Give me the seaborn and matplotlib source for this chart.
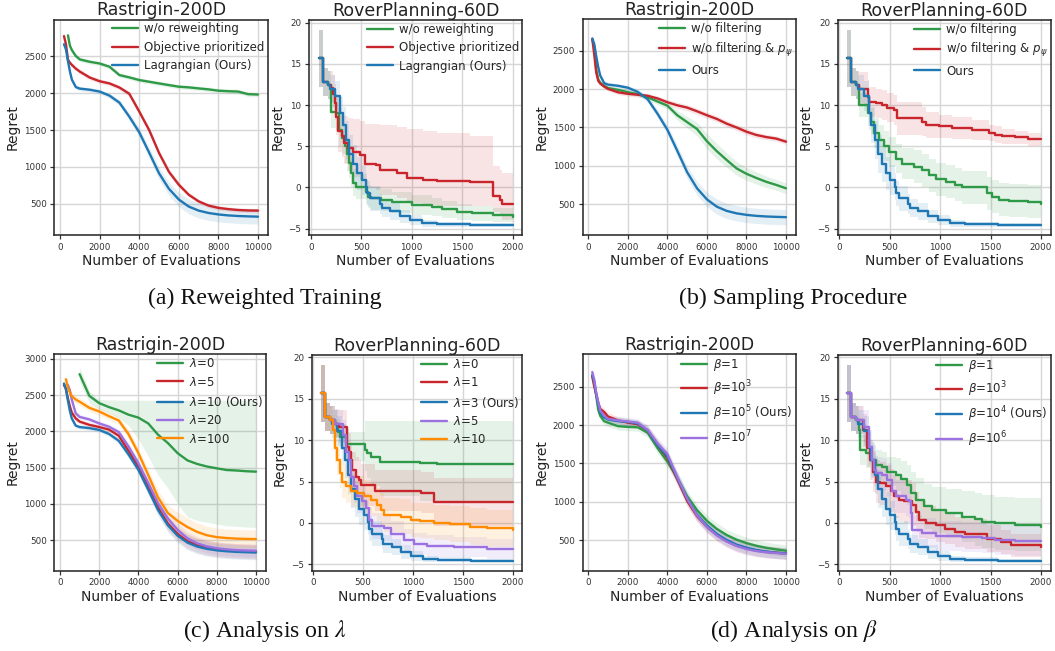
import numpy as np
import matplotlib
matplotlib.use("Agg")
import matplotlib.pyplot as plt
import seaborn as sns

nan = np.nan

# ---------------- data: Rastrigin-200D (shared evaluation grid) ----------------
RAS_X = [200, 300, 400, 500, 600, 800, 1000, 1500, 2000, 2500, 3000, 3500, 4000,
         4500, 5000, 5500, 6000, 6500, 7000, 7500, 8000, 8500, 9000, 9500, 10000]

ras_ours = [2660, 2590, 2430, 2290, 2180, 2080, 2060, 2045, 2020, 1965, 1870, 1680, 1470,
            1195, 915, 705, 560, 465, 410, 378, 358, 345, 337, 332, 328]
ras_ours_err = [60, 50, 40, 35, 30, 30, 30, 30, 30, 35, 40, 50, 60,
                70, 80, 90, 95, 100, 100, 100, 100, 100, 100, 100, 100]

a_worw = [nan, nan, 2780, 2640, 2580, 2500, 2455, 2423, 2400, 2356, 2243, 2212, 2176,
          2153, 2130, 2108, 2086, 2077, 2063, 2050, 2032, 2025, 2020, 1985, 1980]
a_worw_err = [nan, nan, 50, 40, 35, 30, 30, 30, 30, 30, 30, 30, 30,
              30, 30, 30, 30, 30, 30, 30, 30, 30, 30, 30, 30]
a_obj = [2770, 2660, 2450, 2410, 2380, 2330, 2290, 2210, 2160, 2130, 2075, 1990, 1750,
         1500, 1190, 935, 760, 625, 535, 478, 447, 430, 418, 412, 410]
a_obj_err = [40, 40, 35, 30, 30, 30, 30, 30, 30, 30, 30, 35, 40,
             40, 40, 40, 35, 30, 30, 30, 30, 30, 30, 30, 30]

b_wof = [2650, 2560, 2250, 2130, 2085, 2045, 2015, 1992, 1962, 1935, 1895, 1840, 1785,
         1660, 1570, 1480, 1320, 1190, 1075, 965, 895, 840, 790, 750, 705]
b_wof_err = [50, 40, 30, 30, 30, 30, 30, 30, 30, 30, 35, 40, 45,
             60, 75, 90, 100, 100, 95, 90, 85, 80, 75, 70, 70]
b_wofp = [2660, 2450, 2220, 2110, 2075, 2035, 2005, 1960, 1940, 1928, 1915, 1880, 1830,
          1790, 1760, 1712, 1660, 1612, 1550, 1500, 1445, 1402, 1375, 1355, 1315]
b_wofp_err = [50, 45, 40, 35, 30, 30, 30, 30, 30, 30, 30, 30, 35,
              40, 40, 40, 40, 40, 40, 40, 40, 40, 35, 35, 35]

c_l0 = [nan, nan, nan, nan, nan, nan, 2790, 2490, 2390, 2335, 2290, 2230, 2190,
        2110, 1955, 1840, 1700, 1600, 1550, 1515, 1490, 1467, 1460, 1450, 1444]
c_l0_up = [nan, nan, nan, nan, nan, nan, 100, 60, 50, 100, 140, 200, 240,
           320, 470, 590, 720, 830, 880, 915, 940, 960, 970, 980, 985]
c_l0_dn = [nan, nan, nan, nan, nan, nan, 100, 100, 80, 80, 100, 150, 300,
           450, 560, 620, 700, 780, 780, 770, 770, 770, 770, 770, 770]
c_l5 = [2640, 2590, 2460, 2350, 2260, 2180, 2135, 2090, 2060, 2025, 1940, 1730, 1510,
        1240, 950, 730, 585, 485, 428, 393, 372, 358, 350, 345, 340]
c_l5_err = [60, 50, 40, 40, 40, 35, 30, 30, 30, 35, 40, 50, 60,
            70, 80, 90, 95, 100, 100, 100, 100, 100, 100, 100, 100]
c_l20 = [nan, nan, 2640, 2570, 2440, 2250, 2200, 2165, 2110, 2065, 1990, 1790, 1560,
         1290, 1010, 800, 640, 525, 455, 412, 387, 372, 362, 356, 353]
c_l20_err = [nan, nan, 50, 45, 40, 35, 35, 35, 35, 35, 40, 50, 60,
             70, 80, 85, 90, 90, 90, 90, 90, 90, 90, 90, 90]
c_l100 = [nan, 2720, 2610, 2545, 2485, 2440, 2410, 2325, 2275, 2210, 2150, 1960, 1700,
          1400, 1090, 875, 765, 680, 612, 566, 540, 528, 520, 516, 514]
c_l100_err = [nan, 70, 60, 55, 50, 50, 50, 50, 50, 50, 55, 60, 70,
              80, 100, 110, 120, 125, 125, 125, 125, 125, 125, 125, 125]

d_b1 = [2650, 2540, 2380, 2200, 2120, 2050, 2030, 1985, 1975, 1970, 1900, 1700, 1520,
        1310, 1070, 890, 750, 645, 565, 505, 460, 425, 398, 378, 360]
d_b1_err = [60, 55, 50, 50, 50, 50, 50, 50, 50, 50, 60, 70, 75,
            75, 75, 75, 75, 75, 75, 75, 75, 75, 75, 75, 75]
d_b3 = [2630, 2500, 2400, 2290, 2210, 2170, 2110, 2060, 2030, 2010, 1930, 1740, 1570,
        1290, 1010, 810, 670, 565, 485, 425, 390, 362, 345, 335, 325]
d_b3_err = [60, 55, 50, 50, 50, 50, 50, 50, 50, 50, 60, 70, 75,
            75, 75, 75, 75, 75, 75, 75, 75, 75, 75, 75, 75]
d_b5 = [2650, 2560, 2400, 2260, 2160, 2100, 2070, 2050, 2040, 2020, 1930, 1740, 1590,
        1310, 1040, 830, 690, 580, 500, 440, 400, 370, 350, 335, 326]
d_b5_err = [60, 55, 50, 50, 50, 50, 50, 50, 50, 50, 60, 70, 75,
            75, 75, 75, 75, 75, 75, 75, 75, 75, 75, 75, 75]
d_b7 = [2690, 2590, 2420, 2300, 2190, 2120, 2080, 2060, 2045, 2030, 1935, 1760, 1620,
        1320, 1040, 820, 670, 560, 480, 422, 382, 356, 340, 330, 320]
d_b7_err = [60, 55, 50, 50, 50, 50, 50, 50, 50, 50, 60, 70, 75,
            75, 75, 75, 75, 75, 75, 75, 75, 75, 75, 75, 75]

# ---------------- data: RoverPlanning-60D (step curves) ----------------
rov_ours_x = [80, 120, 170, 190, 240, 290, 317, 350, 383, 422, 462, 505, 548, 561, 587,
              686, 703, 785, 884, 983, 1099, 1248, 1578, 2000]
rov_ours_y = [15.65, 12.8, 12.4, 11.9, 11.1, 9.0, 7.6, 5.8, 4.1, 2.9, 1.7, 0.9, 0.1, -0.7, -1.3,
              -2.0, -2.5, -2.9, -3.5, -4.0, -4.35, -4.47, -4.55, -4.6]
rov_ours_err = [3.45, 1.7, 1.7, 1.7, 1.8, 2.0, 2.2, 2.3, 2.3, 2.2, 2.0, 1.8, 1.6, 1.5, 1.5,
                1.2, 1.1, 1.0, 0.8, 0.6, 0.4, 0.3, 0.2, 0.2]

a2_worw_x = [80, 120, 170, 200, 250, 280, 310, 340, 360, 380, 400, 420, 450, 550, 570, 600,
             700, 800, 1000, 1200, 1300, 1450, 1600, 1800, 2000]
a2_worw_y = [15.65, 12.8, 12.4, 9.2, 9.0, 7.0, 6.0, 5.0, 4.0, 3.0, 1.8, 0.6, 0.1, -0.5, -1.1, -1.3,
             -1.5, -1.8, -2.1, -2.4, -2.65, -2.95, -3.15, -3.35, -3.55]
a2_worw_err = [3.45, 1.7, 1.7, 2.0, 2.0, 2.0, 2.0, 2.0, 2.0, 1.8, 1.8, 1.6, 1.5, 1.5, 1.4, 1.4,
               1.3, 1.3, 1.2, 1.1, 1.0, 1.0, 0.9, 0.9, 0.9]
a2_obj_x = [80, 120, 170, 200, 225, 240, 255, 275, 305, 330, 370, 420, 490, 540, 650, 690,
            850, 950, 1110, 1250, 1580, 1805, 1875, 1890, 2000]
a2_obj_y = [15.65, 12.8, 12.4, 12.1, 11.4, 10.2, 8.6, 6.8, 6.2, 5.4, 4.8, 4.3, 3.9, 2.9, 2.7, 2.1,
            1.7, 1.1, 0.9, 0.8, 0.7, -1.0, -1.5, -2.0, -2.0]
a2_obj_up = [3.45, 1.7, 1.7, 2.0, 2.2, 2.4, 2.6, 2.8, 3.0, 3.3, 3.6, 4.0, 4.2, 4.8, 5.0, 5.5,
             5.6, 6.0, 5.9, 5.8, 5.5, 3.6, 3.6, 3.8, 3.8]
a2_obj_dn = [3.45, 1.7, 1.7, 1.6, 1.8, 2.0, 2.2, 2.5, 2.5, 2.6, 2.8, 3.0, 3.0, 3.0, 3.0, 3.0,
             3.0, 3.0, 3.0, 3.0, 3.0, 2.0, 2.0, 2.0, 2.0]

b2_wof_x = [80, 120, 170, 200, 280, 312, 345, 395, 444, 493, 559, 625, 740, 822, 888, 954,
            1053, 1151, 1217, 1464, 1513, 1579, 1678, 1875, 2000]
b2_wof_y = [15.65, 12.8, 12.4, 10.0, 9.0, 8.0, 6.6, 5.8, 5.0, 4.3, 3.5, 2.9, 2.5, 2.1, 1.5, 1.0,
            0.7, 0.3, 0.0, -0.7, -1.1, -1.5, -1.6, -1.75, -2.0]
b2_wof_err = [3.45, 1.7, 1.7, 1.5, 1.5, 1.6, 1.8, 1.8, 1.8, 1.8, 1.8, 1.9, 2.0, 2.0, 2.0, 2.0,
              2.0, 2.0, 2.0, 2.0, 2.0, 2.0, 2.0, 2.0, 2.0]
b2_wofp_x = [80, 120, 170, 200, 280, 296, 362, 428, 477, 543, 576, 822, 855, 987, 1118, 1316,
             1480, 1546, 1612, 1743, 1875, 2000]
b2_wofp_y = [15.65, 12.8, 12.4, 12.0, 11.0, 10.4, 10.2, 10.0, 9.7, 9.4, 8.4, 8.0, 7.6, 7.4, 7.2, 7.0,
             6.6, 6.4, 6.2, 6.1, 5.85, 5.85]
b2_wofp_err = [3.45, 1.7, 1.7, 2.0, 2.0, 1.8, 1.8, 1.8, 1.8, 1.8, 2.0, 1.8, 1.6, 1.4, 1.3, 1.2,
               1.0, 1.0, 0.9, 0.8, 0.8, 0.8]

c2_l0_x = [80, 120, 170, 220, 250, 270, 326, 519, 542, 576, 669, 1075, 1241, 2000]
c2_l0_y = [15.65, 12.8, 12.4, 12.0, 11.0, 10.4, 9.5, 8.8, 8.4, 8.0, 7.3, 7.2, 7.1, 7.1]
c2_l0_up = [3.45, 1.7, 1.7, 1.6, 1.6, 1.5, 1.5, 3.5, 3.9, 4.35, 5.05, 5.15, 5.25, 5.25]
c2_l0_dn = [3.45, 1.7, 1.7, 1.6, 1.6, 1.6, 2.0, 2.5, 3.0, 3.5, 4.0, 4.5, 4.5, 4.5]
c2_l1_x = [80, 120, 170, 220, 260, 343, 359, 376, 393, 426, 459, 476, 619, 1082, 1215, 2000]
c2_l1_y = [15.65, 12.8, 12.4, 12.0, 11.6, 9.2, 8.6, 7.6, 6.4, 5.6, 5.2, 4.6, 3.9, 3.65, 2.5, 2.5]
c2_l1_err = [3.45, 1.7, 1.7, 1.8, 2.0, 2.2, 2.2, 2.2, 2.2, 2.4, 2.4, 2.5, 2.5, 2.5, 2.9, 2.9]
c2_l5_x = [80, 120, 170, 220, 293, 326, 359, 376, 409, 443, 492, 526, 559, 592, 709, 775,
           908, 1008, 1141, 1408, 1740, 2000]
c2_l5_y = [15.65, 12.8, 12.4, 12.0, 10.6, 8.6, 7.6, 5.6, 4.4, 3.2, 2.6, 1.8, 0.35, -0.4, -0.65, -1.3,
           -2.1, -2.55, -2.8, -2.95, -3.1, -3.2]
c2_l5_err = [3.45, 1.7, 1.7, 1.6, 1.8, 2.0, 2.0, 2.0, 2.0, 2.0, 1.8, 1.8, 1.6, 1.6, 1.5, 1.5,
             1.4, 1.3, 1.3, 1.2, 1.2, 1.2]
c2_l10_x = [80, 120, 170, 200, 220, 240, 265, 290, 330, 380, 443, 509, 576, 642, 676, 709,
            875, 975, 1075, 1208, 1374, 1574, 1740, 2000]
c2_l10_y = [15.65, 12.8, 12.4, 11.2, 9.0, 7.6, 6.0, 5.0, 4.4, 3.9, 3.65, 3.2, 2.8, 2.2, 1.55, 0.95,
            0.75, 0.35, 0.25, 0.05, -0.15, -0.45, -0.65, -0.85]
c2_l10_err = [3.45, 1.7, 1.7, 1.8, 1.8, 1.8, 1.8, 2.0, 2.0, 2.0, 2.0, 2.0, 2.0, 2.0, 2.1, 2.1,
              2.1, 2.1, 2.1, 2.1, 2.2, 2.2, 2.2, 2.2]

d2_b1_x = [80, 120, 170, 197, 207, 263, 312, 362, 428, 477, 559, 609, 674, 707, 757, 839,
           921, 1053, 1217, 1349, 1414, 1546, 1743, 2000]
d2_b1_y = [15.65, 12.8, 12.4, 11.2, 8.8, 8.4, 7.6, 7.0, 6.8, 6.2, 5.8, 5.3, 4.6, 3.6, 2.8, 2.0,
           1.55, 1.15, 0.76, 0.44, 0.15, -0.05, -0.25, -0.45]
d2_b1_err = [3.45, 1.7, 1.7, 1.8, 1.8, 1.8, 1.8, 1.8, 1.8, 1.8, 2.0, 2.2, 2.4, 2.5, 2.6, 2.7,
             2.8, 3.0, 3.1, 3.2, 3.2, 3.2, 3.2, 3.2]
d2_b3_x = [80, 120, 170, 230, 270, 300, 330, 362, 400, 460, 510, 540, 590, 640, 720, 760,
           790, 860, 960, 1050, 1150, 1250, 1460, 1600, 1700, 2000]
d2_b3_y = [15.65, 12.8, 12.4, 11.2, 9.0, 7.6, 6.2, 5.0, 4.8, 4.4, 3.9, 3.2, 2.8, 2.6, 2.2, 1.3,
           0.4, 0.0, -0.3, -0.75, -1.05, -1.3, -1.9, -2.3, -2.7, -2.85]
d2_b3_err = [3.45, 1.7, 1.7, 2.0, 2.2, 2.4, 2.5, 2.6, 2.6, 2.6, 2.6, 2.6, 2.6, 2.6, 2.6, 2.4,
             2.2, 2.0, 2.0, 1.8, 1.8, 1.8, 1.6, 1.5, 1.4, 1.4]
d2_b6_x = [80, 120, 170, 247, 296, 329, 345, 362, 428, 477, 526, 559, 658, 691, 707, 724,
           822, 954, 1217, 1414, 1546, 1743, 2000]
d2_b6_y = [15.65, 12.8, 12.4, 11.6, 9.2, 7.6, 6.4, 6.0, 5.8, 5.2, 3.8, 3.2, 2.8, 2.6, 1.2, -0.85,
           -1.26, -1.58, -1.74, -1.86, -2.06, -2.14, -2.18]
d2_b6_err = [3.45, 1.7, 1.7, 2.0, 2.0, 2.0, 2.0, 2.0, 2.0, 2.0, 2.0, 2.0, 2.0, 2.0, 2.0, 1.8,
             1.8, 1.8, 1.8, 1.8, 1.8, 1.8, 1.8]

# ---------------- style ----------------
GREEN, RED, BLUE, PURPLE, ORANGE = "#2e9a48", "#c8262c", "#1f77b4", "#9b72e0", "#ff8c00"

sns.set_theme(style="whitegrid")
plt.rcParams.update({
    "font.family": ["DejaVu Sans"],
    "mathtext.fontset": "dejavusans",
    "axes.edgecolor": "#222222",
    "axes.linewidth": 1.1,
    "grid.color": "#d6d6d6",
    "grid.linewidth": 1.0,
    "xtick.bottom": True,
    "ytick.left": True,
    "xtick.major.size": 3,
    "ytick.major.size": 3,
    "xtick.major.width": 0.9,
    "ytick.major.width": 0.9,
    "xtick.major.pad": 2.5,
    "ytick.major.pad": 2.5,
    "xtick.color": "#333333",
    "ytick.color": "#333333",
    "xtick.labelsize": 6.3,
    "ytick.labelsize": 6.3,
    "axes.labelsize": 10,
    "axes.labelcolor": "#222222",
    "axes.titlesize": 12.5,
    "axes.titlecolor": "#222222",
})

W, H = 1055, 651
fig = plt.figure(figsize=(W / 100, H / 100), dpi=100)


def add_ax(l, r, t, b):
    return fig.add_axes([l / W, 1 - b / H, (r - l) / W, (b - t) / H])


def ser(x, y, color, label, up, dn=None):
    return dict(x=x, y=y, c=color, label=label, up=up, dn=up if dn is None else dn)


def draw(ax, series, steps, ylim, yticks, title):
    for s in series:
        x = np.asarray(s["x"], float)
        y = np.asarray(s["y"], float)
        up = np.asarray(s["up"], float)
        dn = np.asarray(s["dn"], float)
        m = ~np.isnan(y)
        ax.fill_between(x[m], (y - dn)[m], (y + up)[m], color=s["c"], alpha=0.12, lw=0,
                        step="post" if steps else None, zorder=1)
    for s in series:
        x = np.asarray(s["x"], float)
        y = np.asarray(s["y"], float)
        m = ~np.isnan(y)
        sns.lineplot(x=x[m], y=y[m], ax=ax, color=s["c"], lw=1.7, label=s["label"],
                     estimator=None, sort=False,
                     drawstyle="steps-post" if steps else "default", zorder=3)
    if steps:
        ax.set_xlim(-16, 2096)
        ax.set_xticks([0, 500, 1000, 1500, 2000])
    else:
        ax.set_xlim(-290, 10490)
        ax.set_xticks([0, 2000, 4000, 6000, 8000, 10000])
    ax.set_ylim(*ylim)
    ax.set_yticks(yticks)
    ax.set_title(title, pad=3)
    ax.set_xlabel("Number of Evaluations", labelpad=2)
    ax.set_ylabel("Regret", labelpad=3)
    for sp in ax.spines.values():
        sp.set_visible(True)
        sp.set_color("#222222")
    ax.legend(loc="upper right", frameon=False, fontsize=8.5, handlelength=2.2,
              handletextpad=0.5, labelspacing=0.45, borderaxespad=0.0, borderpad=0.25)


RAS_T, ROV_T = "Rastrigin-200D", "RoverPlanning-60D"
ROV_TICKS = [-5, 0, 5, 10, 15, 20]

# (a) Reweighted Training
ax = add_ax(54.3, 267.7, 19.5, 235)
draw(ax, [ser(RAS_X, a_worw, GREEN, "w/o reweighting", a_worw_err),
          ser(RAS_X, a_obj, RED, "Objective prioritized", a_obj_err),
          ser(RAS_X, ras_ours, BLUE, "Lagrangian (Ours)", ras_ours_err)],
     False, (80, 2995), [500, 1000, 1500, 2000, 2500], RAS_T)
ax = add_ax(309.1, 522.4, 20, 235)
draw(ax, [ser(a2_worw_x, a2_worw_y, GREEN, "w/o reweighting", a2_worw_err),
          ser(a2_obj_x, a2_obj_y, RED, "Objective prioritized", a2_obj_up, a2_obj_dn),
          ser(rov_ours_x, rov_ours_y, BLUE, "Lagrangian (Ours)", rov_ours_err)],
     True, (-5.77, 20.32), ROV_TICKS, ROV_T)

# (b) Sampling Procedure
ax = add_ax(582.6, 795.7, 19.3, 235)
draw(ax, [ser(RAS_X, b_wof, GREEN, "w/o filtering", b_wof_err),
          ser(RAS_X, b_wofp, RED, r"w/o filtering & $p_\psi$", b_wofp_err),
          ser(RAS_X, ras_ours, BLUE, "Ours", ras_ours_err)],
     False, (95, 2914), [500, 1000, 1500, 2000, 2500], RAS_T)
ax = add_ax(837.7, 1050.7, 20, 235)
draw(ax, [ser(b2_wof_x, b2_wof_y, GREEN, "w/o filtering", b2_wof_err),
          ser(b2_wofp_x, b2_wofp_y, RED, r"w/o filtering & $p_\psi$", b2_wofp_err),
          ser(rov_ours_x, rov_ours_y, BLUE, "Ours", rov_ours_err)],
     True, (-5.77, 20.32), ROV_TICKS, ROV_T)

# (c) Analysis on lambda
ax = add_ax(54.3, 265.6, 354.3, 570.7)
draw(ax, [ser(RAS_X, c_l0, GREEN, r"$\lambda$=0", c_l0_up, c_l0_dn),
          ser(RAS_X, c_l5, RED, r"$\lambda$=5", c_l5_err),
          ser(RAS_X, ras_ours, BLUE, r"$\lambda$=10 (Ours)", ras_ours_err),
          ser(RAS_X, c_l20, PURPLE, r"$\lambda$=20", c_l20_err),
          ser(RAS_X, c_l100, ORANGE, r"$\lambda$=100", c_l100_err)],
     False, (77, 3064), [500, 1000, 1500, 2000, 2500, 3000], RAS_T)
ax = add_ax(311.7, 522.3, 355, 570.7)
draw(ax, [ser(c2_l0_x, c2_l0_y, GREEN, r"$\lambda$=0", c2_l0_up, c2_l0_dn),
          ser(c2_l1_x, c2_l1_y, RED, r"$\lambda$=1", c2_l1_err),
          ser(rov_ours_x, rov_ours_y, BLUE, r"$\lambda$=3 (Ours)", rov_ours_err),
          ser(c2_l5_x, c2_l5_y, PURPLE, r"$\lambda$=5", c2_l5_err),
          ser(c2_l10_x, c2_l10_y, ORANGE, r"$\lambda$=10", c2_l10_err)],
     True, (-5.77, 20.28), ROV_TICKS, ROV_T)

# (d) Analysis on beta
ax = add_ax(582.6, 795.7, 354.3, 570.7)
draw(ax, [ser(RAS_X, d_b1, GREEN, r"$\beta$=1", d_b1_err),
          ser(RAS_X, d_b3, RED, r"$\beta$=10$^3$", d_b3_err),
          ser(RAS_X, d_b5, BLUE, r"$\beta$=10$^5$ (Ours)", d_b5_err),
          ser(RAS_X, d_b7, PURPLE, r"$\beta$=10$^7$", d_b7_err)],
     False, (100, 2922), [500, 1000, 1500, 2000, 2500], RAS_T)
ax = add_ax(837.7, 1050.7, 355, 570.7)
draw(ax, [ser(d2_b1_x, d2_b1_y, GREEN, r"$\beta$=1", d2_b1_err),
          ser(d2_b3_x, d2_b3_y, RED, r"$\beta$=10$^3$", d2_b3_err),
          ser(rov_ours_x, rov_ours_y, BLUE, r"$\beta$=10$^4$ (Ours)", rov_ours_err),
          ser(d2_b6_x, d2_b6_y, PURPLE, r"$\beta$=10$^6$", d2_b6_err)],
     True, (-5.77, 20.28), ROV_TICKS, ROV_T)

# captions
cap = dict(ha="center", va="baseline", fontsize=17.2, family="Liberation Serif",
           color="#111111", math_fontfamily="stix")
fig.text(265 / W, 1 - 304 / H, "(a) Reweighted Training", **cap)
fig.text(793 / W, 1 - 304 / H, "(b) Sampling Procedure", **cap)
fig.text(265 / W, 1 - 637 / H, r"(c) Analysis on $\lambda$", **cap)
fig.text(794 / W, 1 - 637 / H, r"(d) Analysis on $\beta$", **cap)

fig.savefig("out.png", dpi=100)
